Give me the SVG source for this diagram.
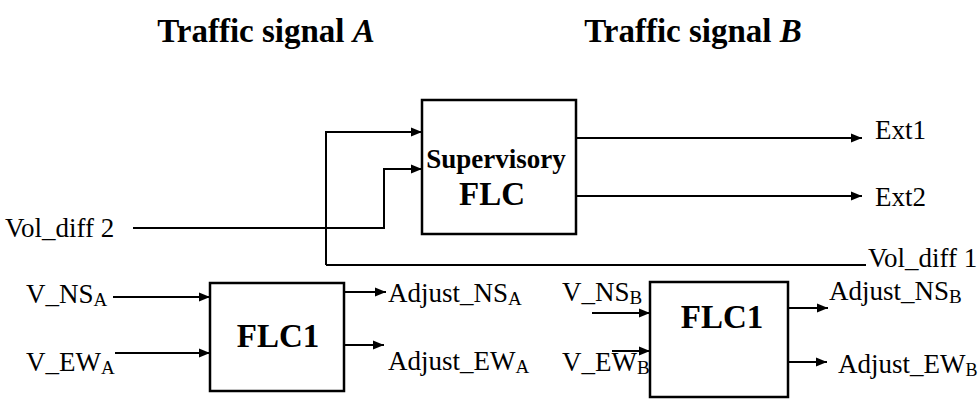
<svg xmlns="http://www.w3.org/2000/svg" width="980" height="400" viewBox="0 0 980 400" font-family="Liberation Serif, Times New Roman, serif">
<defs>
<marker id="arr" markerUnits="userSpaceOnUse" markerWidth="12" markerHeight="10" refX="11" refY="5" orient="auto">
<path d="M0,0.5 L11,5 L0,9.5 z" fill="#000"/>
</marker>
<style>
text{font-family:'Liberation Serif','Times New Roman',serif;fill:#000}
.t{font-size:27px}
.b{font-weight:bold}
.box{fill:#fff;stroke:#000;stroke-width:2.5}
.ln{fill:none;stroke:#000;stroke-width:2}
.a{fill:none;stroke:#000;stroke-width:2;marker-end:url(#arr)}
.s{font-size:19px}
</style>
</defs>
<rect width="980" height="400" fill="#fff"/>
<g id="titles">
<text class="b" x="266" y="42" font-size="33" text-anchor="middle">Traffic signal <tspan font-style="italic">A</tspan></text>
<text class="b" x="693" y="42" font-size="33" text-anchor="middle">Traffic signal <tspan font-style="italic">B</tspan></text>
</g>
<g id="connectors">
<polyline class="a" points="326,265 326,132 422,132"/>
<polyline class="a" points="133,228 384,228 384,169 422,169"/>
<line class="ln" x1="326" y1="265" x2="866" y2="265"/>
<line class="a" x1="576" y1="138" x2="862" y2="138"/>
<line class="a" x1="576" y1="196" x2="862" y2="196"/>
<line class="a" x1="113" y1="297" x2="210" y2="297"/>
<line class="a" x1="115" y1="353" x2="210" y2="353"/>
<line class="a" x1="344" y1="292" x2="386" y2="292"/>
<line class="a" x1="344" y1="345" x2="384" y2="345"/>
<line class="a" x1="592" y1="313" x2="650" y2="313"/>
<line class="a" x1="612" y1="351" x2="650" y2="351"/>
<line class="a" x1="788" y1="308" x2="828" y2="308"/>
<line class="a" x1="788" y1="362" x2="827" y2="362"/>
</g>
<g id="supervisory">
<rect class="box" x="422" y="100" width="154" height="134"/>
<text class="b" x="496" y="168" font-size="27" text-anchor="middle">Supervisory</text>
<text class="b" x="492" y="205" font-size="33" text-anchor="middle">FLC</text>
</g>
<g id="flc1-a">
<rect class="box" x="210" y="283" width="134" height="108"/>
<text class="b" x="278" y="347" font-size="33" text-anchor="middle">FLC1</text>
</g>
<g id="flc1-b">
<rect class="box" x="650" y="282" width="138" height="115"/>
<text class="b" x="722" y="328" font-size="33" text-anchor="middle">FLC1</text>
</g>
<g id="labels">
<text class="t" x="5" y="237">Vol_diff 2</text>
<text class="t" x="868" y="267" font-size="26">Vol_diff 1</text>
<text class="t" x="875" y="139">Ext1</text>
<text class="t" x="875" y="206">Ext2</text>
<text class="t" x="26" y="303">V_NS<tspan class="s" dy="3">A</tspan></text>
<text class="t" x="26" y="371">V_EW<tspan class="s" dy="3">A</tspan></text>
<text class="t" x="388" y="302">Adjust_NS<tspan class="s" dy="3">A</tspan></text>
<text class="t" x="388" y="370">Adjust_EW<tspan class="s" dy="3">A</tspan></text>
<text class="t" x="562" y="301">V_NS<tspan class="s" dy="3">B</tspan></text>
<text class="t" x="562" y="371">V_EW<tspan class="s" dy="3">B</tspan></text>
<text class="t" x="829" y="300">Adjust_NS<tspan class="s" dy="3">B</tspan></text>
<text class="t" x="838" y="373" font-size="26">Adjust_EW<tspan font-size="18" dy="3">B</tspan></text>
</g>
</svg>
